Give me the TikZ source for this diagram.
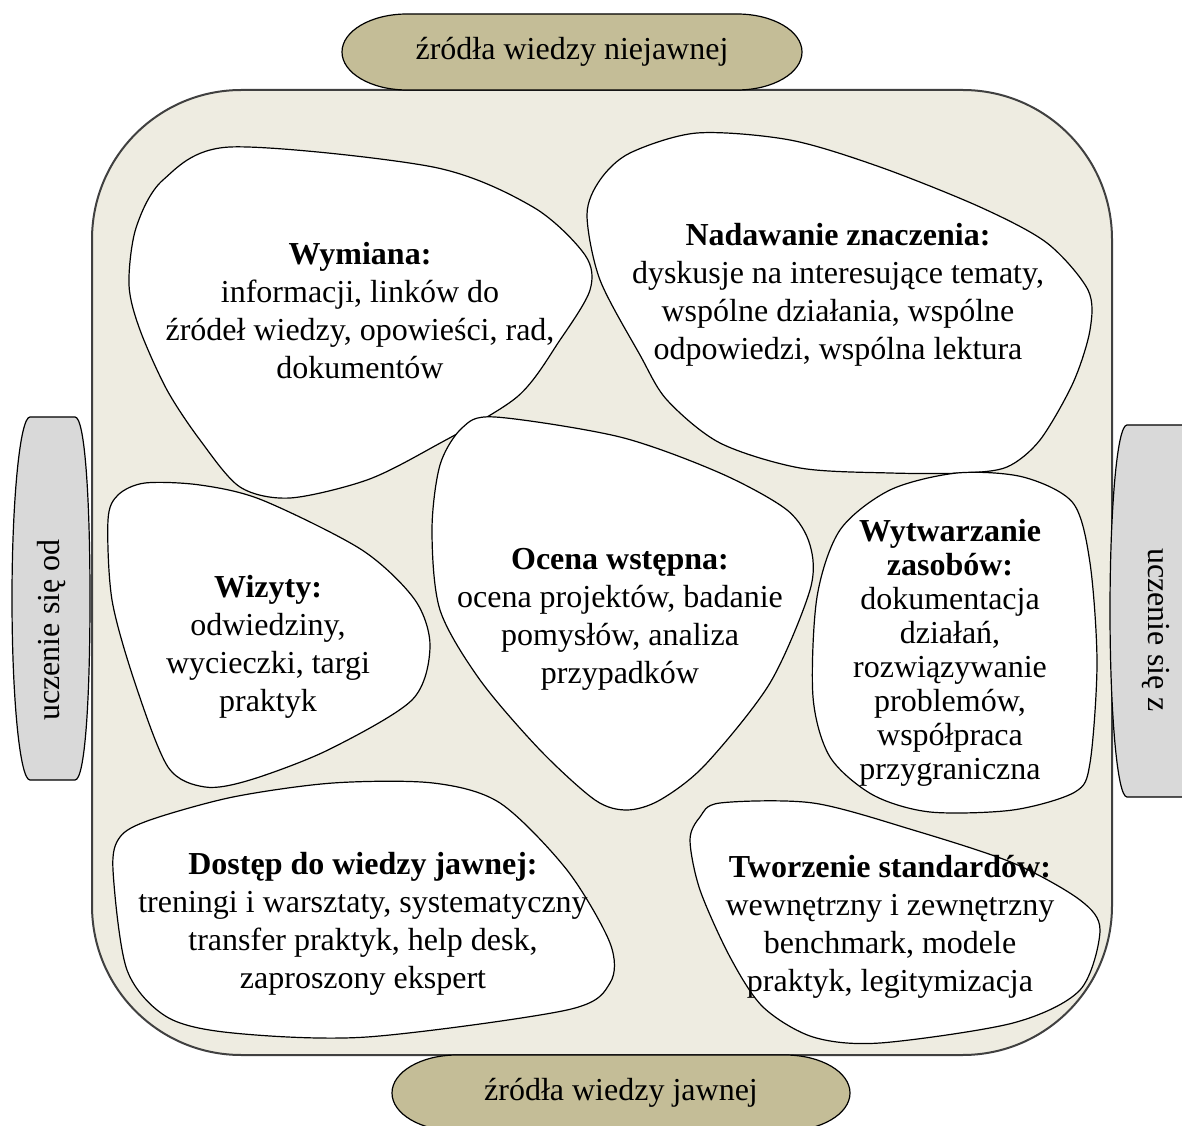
\documentclass[tikz,border=0pt]{standalone}
\usepackage{fontspec}
\setmainfont{Liberation Serif}
\usepackage{xcolor}
\usepackage{tikz}

\definecolor{tanbg}{HTML}{EEECE1}
\definecolor{tandark}{HTML}{C4BD97}
\definecolor{pillgray}{HTML}{D9D9D9}

\begin{document}
\begin{tikzpicture}[x=0.75pt, y=-0.75pt,
    blob/.style={draw=black, line width=0.9pt, fill=white},
    pill/.style={draw=black, line width=0.9pt},
    txt/.style={align=center, inner sep=0pt, font=\fontsize{24}{28.5}\selectfont}]
  \useasboundingbox (0,0) rectangle (1182,1126);

  % frame
  \draw[line width=1.5pt, draw=black!75, fill=tanbg, rounded corners=112pt]
    (92,90) rectangle (1112,1055);

  % pills round the frame
  \draw[pill, fill=tandark] (407,14) -- (737,14)
    .. controls (773,14) and (802,31) .. (802,52)
    .. controls (802,73) and (773,90) .. (737,90) -- (407,90)
    .. controls (371,90) and (342,73) .. (342,52)
    .. controls (342,31) and (371,14) .. (407,14) -- cycle;
  \draw[pill, fill=tandark] (457,1055) -- (785,1055)
    .. controls (821,1055) and (850,1072) .. (850,1093)
    .. controls (850,1114) and (821,1131) .. (785,1131) -- (457,1131)
    .. controls (421,1131) and (392,1114) .. (392,1093)
    .. controls (392,1072) and (421,1055) .. (457,1055) -- cycle;
  \draw[pill, fill=pillgray] (30,417) -- (75,417)
    .. controls (85,417) and (90,500) .. (90,598)
    .. controls (90,700) and (85,780) .. (75,780) -- (30,780)
    .. controls (20,780) and (12,700) .. (12,598)
    .. controls (12,500) and (20,417) .. (30,417) -- cycle;
  \draw[pill, fill=pillgray] (1127,425) -- (1183,425)
    .. controls (1193,425) and (1200,510) .. (1200,611)
    .. controls (1200,710) and (1193,797) .. (1183,797) -- (1127,797)
    .. controls (1117,797) and (1110,710) .. (1110,611)
    .. controls (1110,510) and (1117,425) .. (1127,425) -- cycle;

  \node[txt] (niejawne) at (572,52) {źródła wiedzy niejawnej};
  \node[txt] (jawne) at (621,1093) {źródła wiedzy jawnej};
  \node[txt, rotate=90] (od) at (52,630) {uczenie się od};
  \node[txt, rotate=-90] (z) at (1156,630) {uczenie się z};

  % blobs
  \draw[blob] plot[smooth cycle] coordinates {(136,228) (163,180) (230,147)
    (433,167) (533,207) (585,255) (590,290) (560,340) (517,397) (433,447)
    (367,480) (290,498) (240,487) (200,440) (167,390) (140,330) (129,285)};
  \draw[blob] plot[smooth cycle] coordinates {(587,215) (600,180) (630,153)
    (697,133) (790,140) (880,167) (980,207) (1047,243) (1088,290) (1090,330)
    (1073,383) (1040,440) (1007,467) (963,473) (890,473) (800,468) (720,443)
    (667,400) (640,355) (600,280)};
  \draw[blob] plot[smooth cycle] coordinates {(108,520) (118,495) (145,483)
    (200,485) (262,500) (362,550) (415,600) (430,647) (412,700) (328,750)
    (250,780) (205,787) (168,767) (135,683) (112,600)};
  \draw[blob] plot[smooth cycle] coordinates {(432,530) (440,610) (480,680)
    (540,750) (595,800) (627,810) (660,800) (705,765) (770,683) (810,590)
    (810,545) (787,510) (720,473) (620,437) (495,417) (462,428) (440,465)};
  \draw[blob] plot[smooth cycle] coordinates {(840,530) (890,490) (957,473)
    (1023,477) (1073,503) (1090,563) (1097,663) (1090,763) (1075,792)
    (1013,810) (930,812) (873,795) (830,757) (813,697) (817,597)};
  \draw[blob] plot[smooth cycle] coordinates {(113,870) (120,837) (150,820)
    (233,797) (333,783) (433,783) (500,803) (567,870) (610,943) (610,983)
    (567,1010) (367,1037) (233,1033) (167,1017) (127,970)};
  \draw[blob] plot[smooth cycle] coordinates {(690,840) (700,817) (720,803)
    (813,803) (913,830) (1013,863) (1080,900) (1100,930) (1080,990)
    (1013,1023) (880,1043) (813,1037) (763,1007) (730,957) (700,890)};

  \node[txt] (wymiana) at (360,311) {\textbf{Wymiana:}\\informacji, linków do\\
    źródeł wiedzy, opowieści, rad,\\dokumentów};
  \node[txt] (nadawanie) at (838,295) {\textbf{Nadawanie znaczenia:}\\
    dyskusje na interesujące tematy,\\wspólne działania, wspólne\\
    odpowiedzi, wspólna lektura};
  \node[txt] (wizyty) at (268,647) {\textbf{Wizyty:}\\odwiedziny,\\
    wycieczki, targi\\praktyk};
  \node[txt] (ocena) at (620,619) {\textbf{Ocena wstępna:}\\
    ocena projektów, badanie\\pomysłów, analiza\\przypadków};
  \node[txt, font=\fontsize{24}{25.5}\selectfont] (wytwarzanie) at (950,653)
    {\textbf{Wytwarzanie}\\\textbf{zasobów:}\\dokumentacja\\działań,\\
    rozwiązywanie\\problemów,\\współpraca\\przygraniczna};
  \node[txt] (dostep) at (363,924) {\textbf{Dostęp do wiedzy jawnej:}\\
    treningi i warsztaty, systematyczny\\transfer praktyk, help desk,\\
    zaproszony ekspert};
  \node[txt] (tworzenie) at (890,927) {\textbf{Tworzenie standardów:}\\
    wewnętrzny i zewnętrzny\\benchmark, modele\\praktyk, legitymizacja};
\end{tikzpicture}
\end{document}
